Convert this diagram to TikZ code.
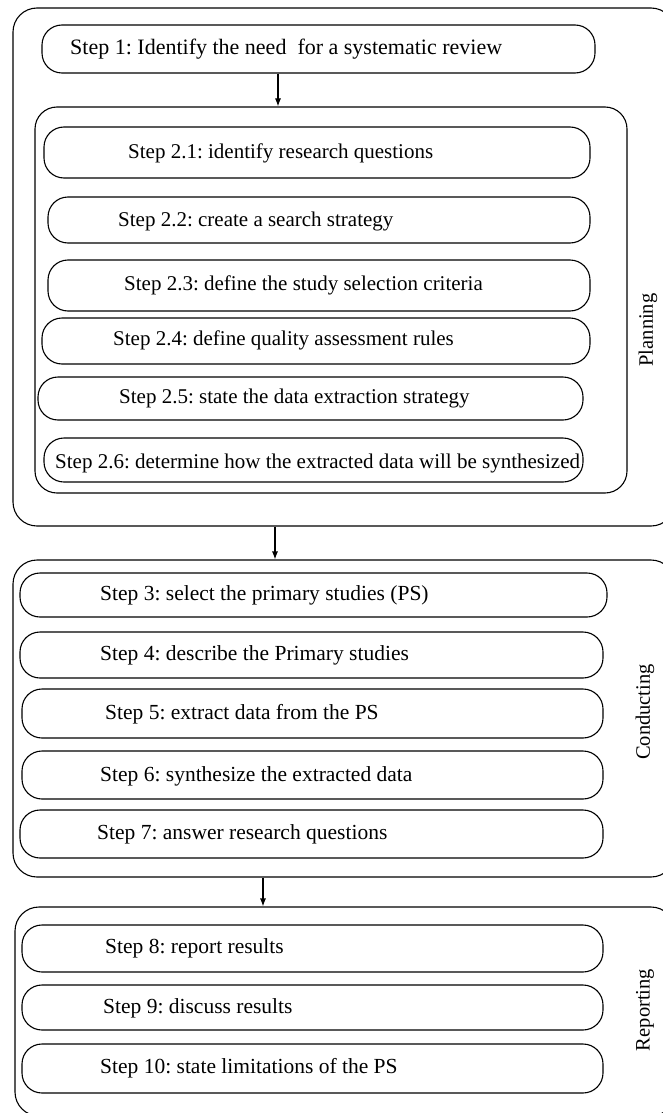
\documentclass[tikz,border=0pt]{standalone}
\usepackage{fontspec}
\setmainfont{Liberation Serif}
\usetikzlibrary{arrows.meta,fit}
\frenchspacing
\begin{document}
\begin{tikzpicture}[x=1pt,y=-1pt,
  stepbox/.style={draw,line width=1.1pt,rounded corners=20pt,inner sep=0pt},
  group/.style={draw,line width=1.1pt,rounded corners=24pt,inner sep=0pt},
  txt/.style={anchor=west,inner sep=0pt,font=\fontsize{21}{24}\selectfont},
  txtb/.style={txt,font=\fontsize{21.5}{24}\selectfont},
  side/.style={rotate=90,inner sep=0pt,font=\fontsize{20.5}{24}\selectfont},
  arr/.style={line width=1.1pt,-{Latex[length=8pt,width=6pt]}}]
\clip (0,0) rectangle (663,1113);
\fill[white] (0,0) rectangle (663,1113);
% Planning
\node[group,fit={(13,8) (675,526)}] (plan) {};
\node[stepbox,fit={(42,25) (595,73)}] (b1) {};
\node[txt,font=\fontsize{22}{24}\selectfont] (t1) at (70,49) {Step 1: Identify the need\ \ for a systematic review};
\node[group,rounded corners=22pt,fit={(35,107) (627,493)}] (inner) {};
\draw[arr] (278,0 |- b1.south) -- (278,0 |- inner.north);
\node[stepbox,fit={(44,127) (590,178)}] (b21) {};
\node[txt] (t21) at (128,153) {Step 2.1: identify research questions};
\node[stepbox,fit={(48,197) (590,243)}] (b22) {};
\node[txt] (t22) at (118,221) {Step 2.2: create a search strategy};
\node[stepbox,fit={(48,260) (590,311)}] (b23) {};
\node[txt] (t23) at (124,285) {Step 2.3: define the study selection criteria};
\node[stepbox,fit={(42,318) (590,364)}] (b24) {};
\node[txt] (t24) at (113,340) {Step 2.4: define quality assessment rules};
\node[stepbox,fit={(38,377) (583,420)}] (b25) {};
\node[txt] (t25) at (119,398) {Step 2.5: state the data extraction strategy};
\node[stepbox,fit={(44,438) (583,482)}] (b26) {};
\node[txt] (t26) at (55,463) {Step 2.6: determine how the extracted data will be synthesized};
\node[side] (lp) at (648,330) {Planning};
% Conducting
\node[group,fit={(13,560) (675,877)}] (cond) {};
\draw[arr] (275,0 |- plan.south) -- (275,0 |- cond.north);
\node[stepbox,fit={(20,573) (607,617)}] (b3) {};
\node[txtb] (t3) at (100,595) {Step 3: select the primary studies (PS)};
\node[stepbox,fit={(20,632) (603,678)}] (b4) {};
\node[txtb] (t4) at (100,655) {Step 4: describe the Primary studies};
\node[stepbox,fit={(22,689) (603,738)}] (b5) {};
\node[txtb] (t5) at (105,714) {Step 5: extract data from the PS};
\node[stepbox,fit={(22,751) (603,799)}] (b6) {};
\node[txtb] (t6) at (100,776) {Step 6: synthesize the extracted data};
\node[stepbox,fit={(20,810) (603,858)}] (b7) {};
\node[txtb] (t7) at (97,834) {Step 7: answer research questions};
\node[side] (lc) at (645,712) {Conducting};
% Reporting
\node[group,fit={(15,907) (675,1116)}] (rep) {};
\draw[arr] (263,0 |- cond.south) -- (263,0 |- rep.north);
\node[stepbox,fit={(22,925) (603,972)}] (b8) {};
\node[txtb] (t8) at (105,948) {Step 8: report results};
\node[stepbox,fit={(22,985) (603,1030)}] (b9) {};
\node[txtb] (t9) at (103,1008) {Step 9: discuss results};
\node[stepbox,fit={(22,1044) (603,1093)}] (b10) {};
\node[txtb] (t10) at (100,1068) {Step 10: state limitations of the PS};
\node[side] (lr) at (645,1010) {Reporting};
\end{tikzpicture}
\end{document}
